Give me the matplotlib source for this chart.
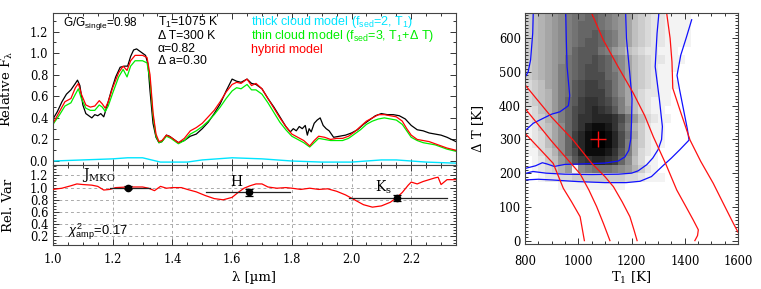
import numpy as np
import matplotlib
matplotlib.use('Agg')
import matplotlib.pyplot as plt
from matplotlib.ticker import MultipleLocator, FormatStrFormatter

plt.rcParams['font.family'] = ['DejaVu Serif']
plt.rcParams['font.size'] = 8.3
plt.rcParams['mathtext.fontset'] = 'custom'
plt.rcParams['mathtext.rm'] = 'Liberation Sans'
plt.rcParams['mathtext.it'] = 'Liberation Sans:italic'
plt.rcParams['mathtext.bf'] = 'Liberation Sans:bold'

# ---------------- spectra (top panel) ----------------
wl_obs = [1.000, 1.015, 1.030, 1.045, 1.060, 1.075, 1.082, 1.090, 1.100, 1.110, 1.120, 1.130,
          1.140, 1.150, 1.160, 1.170, 1.180, 1.195, 1.210, 1.225, 1.240, 1.250, 1.260, 1.270,
          1.280, 1.290, 1.300, 1.310, 1.318, 1.325, 1.335, 1.345, 1.355, 1.365, 1.380, 1.390,
          1.405, 1.420, 1.440, 1.460, 1.480, 1.500, 1.520, 1.540, 1.560, 1.580, 1.600, 1.615,
          1.630, 1.650, 1.665, 1.680, 1.700, 1.720, 1.740, 1.760, 1.780, 1.795, 1.805, 1.815,
          1.825, 1.835, 1.845, 1.852, 1.858, 1.865, 1.875, 1.885, 1.895, 1.905, 1.915, 1.925,
          1.940, 1.960, 1.980, 2.000, 2.020, 2.040, 2.060, 2.080, 2.100, 2.120, 2.140, 2.160,
          2.180, 2.200, 2.220, 2.240, 2.260, 2.280, 2.300, 2.320, 2.335, 2.350]
flux_obs = [0.39, 0.46, 0.55, 0.62, 0.66, 0.72, 0.75, 0.70, 0.52, 0.44, 0.42, 0.40,
            0.43, 0.42, 0.44, 0.41, 0.50, 0.65, 0.78, 0.87, 0.88, 0.88, 0.97, 1.03,
            1.04, 1.02, 1.00, 0.98, 0.90, 0.65, 0.35, 0.22, 0.17, 0.18, 0.24, 0.23,
            0.20, 0.17, 0.19, 0.23, 0.25, 0.30, 0.36, 0.44, 0.53, 0.65, 0.76, 0.74,
            0.73, 0.76, 0.72, 0.71, 0.67, 0.58, 0.50, 0.41, 0.32, 0.27, 0.30, 0.28,
            0.32, 0.30, 0.33, 0.24, 0.30, 0.27, 0.35, 0.38, 0.40, 0.33, 0.30, 0.28,
            0.22, 0.23, 0.24, 0.26, 0.29, 0.34, 0.38, 0.42, 0.44, 0.43, 0.43, 0.42,
            0.39, 0.33, 0.29, 0.28, 0.26, 0.25, 0.24, 0.22, 0.20, 0.18]

wl_mod = [1.000, 1.020, 1.040, 1.060, 1.075, 1.085, 1.095, 1.110, 1.125, 1.140, 1.155, 1.165,
          1.175, 1.185, 1.200, 1.220, 1.235, 1.248, 1.260, 1.275, 1.300, 1.315, 1.325, 1.335,
          1.345, 1.355, 1.365, 1.380, 1.395, 1.410, 1.420, 1.440, 1.460, 1.480, 1.500, 1.520,
          1.540, 1.560, 1.580, 1.600, 1.615, 1.630, 1.650, 1.665, 1.680, 1.700, 1.720, 1.740,
          1.760, 1.780, 1.800, 1.820, 1.840, 1.860, 1.875, 1.890, 1.910, 1.930, 1.950, 1.970,
          1.990, 2.010, 2.030, 2.050, 2.070, 2.090, 2.110, 2.130, 2.150, 2.170, 2.185, 2.200,
          2.220, 2.240, 2.260, 2.280, 2.300, 2.320, 2.335, 2.350]
flux_hybrid = [0.35, 0.45, 0.55, 0.58, 0.68, 0.72, 0.62, 0.52, 0.50, 0.51, 0.56, 0.53,
               0.49, 0.55, 0.68, 0.82, 0.88, 0.84, 0.93, 0.98, 0.98, 0.96, 0.80, 0.45,
               0.25, 0.18, 0.19, 0.24, 0.22, 0.19, 0.17, 0.21, 0.28, 0.31, 0.35, 0.41,
               0.47, 0.55, 0.64, 0.71, 0.73, 0.72, 0.76, 0.70, 0.72, 0.67, 0.58, 0.49,
               0.40, 0.32, 0.25, 0.22, 0.19, 0.14, 0.19, 0.23, 0.22, 0.20, 0.21, 0.21,
               0.23, 0.27, 0.32, 0.37, 0.40, 0.43, 0.43, 0.42, 0.41, 0.37, 0.30, 0.24,
               0.20, 0.19, 0.18, 0.16, 0.14, 0.12, 0.11, 0.10]
flux_thin = [0.34, 0.42, 0.51, 0.54, 0.62, 0.67, 0.58, 0.49, 0.47, 0.47, 0.52, 0.50,
             0.46, 0.51, 0.63, 0.78, 0.85, 0.78, 0.88, 0.93, 0.93, 0.91, 0.75, 0.42,
             0.23, 0.17, 0.18, 0.23, 0.21, 0.18, 0.16, 0.19, 0.25, 0.28, 0.32, 0.37,
             0.43, 0.50, 0.58, 0.65, 0.68, 0.67, 0.71, 0.66, 0.66, 0.62, 0.54, 0.45,
             0.36, 0.29, 0.23, 0.20, 0.17, 0.13, 0.17, 0.21, 0.20, 0.19, 0.19, 0.19,
             0.21, 0.25, 0.29, 0.34, 0.37, 0.39, 0.40, 0.39, 0.38, 0.34, 0.28, 0.22,
             0.19, 0.17, 0.16, 0.15, 0.13, 0.11, 0.10, 0.09]

wl_thick = [1.00, 1.10, 1.20, 1.25, 1.30, 1.33, 1.36, 1.45, 1.50, 1.60, 1.70, 1.80,
            1.90, 2.00, 2.10, 2.15, 2.25, 2.35]
flux_thick = [0.00, 0.01, 0.02, 0.03, 0.03, 0.01, -0.01, -0.01, 0.01, 0.03, 0.02, 0.00,
              -0.01, -0.01, 0.01, 0.01, -0.01, -0.02]

# ---------------- relative variability (lower panel) ----------------
wl_var = [1.00, 1.03, 1.06, 1.08, 1.10, 1.13, 1.15, 1.17, 1.19, 1.21, 1.25, 1.30, 1.32,
          1.34, 1.36, 1.38, 1.40, 1.43, 1.45, 1.48, 1.51, 1.54, 1.57, 1.60, 1.62, 1.64,
          1.66, 1.68, 1.70, 1.72, 1.75, 1.78, 1.80, 1.83, 1.86, 1.89, 1.92, 1.95, 1.98,
          2.01, 2.04, 2.07, 2.10, 2.13, 2.15, 2.17, 2.19, 2.20, 2.22, 2.24, 2.26, 2.28,
          2.29, 2.30, 2.32, 2.35]
rel_var = [0.97, 0.99, 1.03, 1.06, 1.05, 1.04, 1.02, 0.96, 0.97, 1.00, 1.01, 1.01, 0.99,
           0.95, 1.02, 0.99, 1.00, 1.00, 0.97, 0.93, 0.87, 0.82, 0.80, 0.84, 0.92, 0.99,
           1.03, 1.06, 1.06, 1.01, 0.99, 1.00, 0.99, 0.97, 0.99, 0.97, 0.98, 0.94, 0.88,
           0.80, 0.72, 0.68, 0.70, 0.76, 0.83, 0.92, 1.04, 1.09, 1.06, 1.10, 1.13, 1.16,
           1.17, 1.05, 1.13, 1.13]

band_names = ['J$_{\\mathrm{MKO}}$', 'H', 'K$_{\\mathrm{s}}$']
band_center = [1.25, 1.655, 2.152]
band_lo = [1.19, 1.513, 1.993]
band_hi = [1.325, 1.795, 2.32]
band_var = [1.00, 0.92, 0.83]
band_err = [0.02, 0.05, 0.05]
band_label_xy = [(1.097, 1.14), (1.593, 1.02), (2.079, 0.93)]

# ---------------- T1 / Delta T map (right panel) ----------------
t1_edges = np.arange(800, 1601, 25)
dt_edges = np.arange(0, 676, 25)
# grey code per cell: 0 (white) .. k (=20, black); rows from dT=650 (top) to dT=0
map_rows = [
    "456789abbccba987543221111",   # 650
    "456789abcccba987543221111",   # 625
    "456789abccdcba87543221111",   # 600
    "456789abcddcba87543221111",   # 575
    "456789acdddba87543221110",    # 550
    "456789bcddedca9754322111",    # 525
    "45678abcdeedca975432111",     # 500
    "45678abcdeeecb97543211",      # 475
    "34578abdeffedb9754321110",    # 450
    "34568abdefffdb975322110",     # 425
    "34568acdfggfeca7532111",      # 400
    "23568acefghgfda853211",       # 375
    "23467acegghhhgeb853211",      # 350
    "124579cegijjigda64211",       # 325
    "123579cfhjkkjheb74211",       # 300
    "123579cfhjkkjhea64211",       # 275
    "113469cehjjjigda6321",        # 250
    "012458adfghhgfc95311",        # 225
    "012346819abbba986421",        # 200
    "001223344444444332111",       # 175
    "0000011111111110",            # 150
    "0", "0", "0", "0", "0", "0",
]

blue_inner_right = [(1178, 675), (1181, 600), (1193, 500), (1202, 420), (1200, 350), (1197, 300),
                    (1190, 268), (1175, 248), (1150, 236), (1100, 230), (1000, 227), (950, 226),
                    (910, 220), (880, 228), (865, 231), (840, 222), (800, 214)]
blue_inner_left = [(953, 675), (955, 600), (958, 516), (968, 430), (963, 400), (931, 382),
                   (900, 375), (869, 363), (831, 348), (806, 330), (800, 325)]
blue_mid_left = [(831, 675), (829, 615), (821, 536), (812, 501), (800, 484)]
blue_mid_right = [(1303, 675), (1296, 615), (1289, 516), (1305, 417), (1316, 338), (1313, 300),
                  (1300, 270), (1280, 245), (1257, 225), (1225, 207), (1200, 200), (1150, 197),
                  (1050, 196), (950, 197), (880, 200), (830, 205), (800, 199)]
blue_outer = [(800, 180), (850, 182), (900, 180), (1000, 175), (1100, 172), (1180, 172),
              (1232, 176), (1275, 190), (1318, 222), (1350, 245), (1382, 270), (1416, 298),
              (1410, 330), (1395, 390), (1380, 450), (1371, 490), (1385, 550), (1405, 600),
              (1426, 655)]

red_lines = [
    [(800, 318), (860, 268), (906, 229), (944, 155), (975, 115), (1007, 71), (1023, 0)],
    [(800, 392), (901, 294), (1007, 198), (1040, 150), (1069, 101), (1095, 50), (1119, 0)],
    [(800, 462), (900, 366), (981, 298), (1050, 230), (1100, 190), (1132, 160), (1165, 115),
     (1194, 71), (1210, 30), (1221, 0)],
    [(1050, 675), (1094, 595), (1150, 515), (1207, 437), (1250, 370), (1282, 308), (1330, 225),
     (1370, 150), (1405, 100), (1432, 61), (1451, 32), (1448, 15), (1438, 0)],
    [(1332, 675), (1345, 600), (1352, 530), (1355, 452), (1385, 380), (1420, 298), (1460, 235),
     (1507, 170), (1545, 110), (1582, 52), (1600, 25)],
]
best_t1, best_dt = 1075, 300

# ---------------- figure ----------------
W, H = 761, 289
fig = plt.figure(figsize=(W / 100, H / 100), dpi=100)


def rect(l, t, r, b):
    return [l / W, 1 - b / H, (r - l) / W, (b - t) / H]


ax1 = fig.add_axes(rect(53, 13, 456, 165))
ax2 = fig.add_axes(rect(53, 165, 456, 245))
ax3 = fig.add_axes(rect(525, 13, 738, 244))

for ax in (ax1, ax2, ax3):
    ax.tick_params(which='both', direction='in', top=True, right=True,
                   width=0.7, color='#333333', labelsize=8.3)
    ax.tick_params(which='major', length=4.5)
    ax.tick_params(which='minor', length=2.2)
    for s in ax.spines.values():
        s.set_linewidth(0.8)
        s.set_color('#444444')

sans = 'Liberation Sans'

# top panel
ax1.plot(wl_thick, flux_thick, color='#00e5ff', lw=1.0)
ax1.plot(wl_obs, flux_obs, color='black', lw=0.9)
ax1.plot(wl_mod, flux_thin, color='#00ee00', lw=0.9)
ax1.plot(wl_mod, flux_hybrid, color='#ff0000', lw=0.9)
ax1.set_xlim(1.0, 2.35)
ax1.set_ylim(-0.037, 1.373)
ax1.xaxis.set_major_locator(MultipleLocator(0.2))
ax1.xaxis.set_minor_locator(MultipleLocator(0.05))
ax1.set_yticks(np.arange(0, 1.21, 0.2))
ax1.yaxis.set_major_formatter(FormatStrFormatter('%.1f'))
ax1.yaxis.set_minor_locator(MultipleLocator(0.1))
ax1.tick_params(labelbottom=False)
ax1.set_ylabel('Relative F$_{\\mathrm{\\lambda}}$', fontsize=9.5, math_fontfamily='dejavuserif')
ax1.yaxis.set_label_coords(-0.094, 0.5)


def ptxt(ax, xpx, ypx_base, s, color='black', size=8.8):
    ax.text((xpx - 53) / 403, (165 - ypx_base) / 152, s, transform=ax.transAxes,
            fontsize=size, family=sans, color=color, va='baseline', ha='left')


ptxt(ax1, 63, 26, 'G/G$_{\\mathrm{single}}$=0.98', size=8.5)
ptxt(ax1, 158, 26, 'T$_1$=1075 K')
ptxt(ax1, 158, 39, 'Δ T=300 K')
ptxt(ax1, 158, 52, 'α=0.82')
ptxt(ax1, 158, 64.5, 'Δ a=0.30')
ptxt(ax1, 251, 24.5, 'thick cloud model (f$_{\\mathrm{sed}}$=2, T$_1$)', color='#00e5ff', size=9.0)
ptxt(ax1, 251, 39.5, 'thin cloud model (f$_{\\mathrm{sed}}$=3, T$_1$+Δ T)', color='#00ee00', size=9.0)
ptxt(ax1, 251, 53.5, 'hybrid model', color='#ff0000', size=9.0)

# lower panel
ax2.plot(wl_var, rel_var, color='#ff0000', lw=0.9, zorder=3)
for name, c, lo, hi, v, e, (lx, ly) in zip(band_names, band_center, band_lo, band_hi,
                                            band_var, band_err, band_label_xy):
    ax2.plot([lo, hi], [v, v], color='#222222', lw=0.9, zorder=4)
    ax2.errorbar([c], [v], yerr=[e], fmt='o', color='black', ms=4.5, capsize=3,
                 elinewidth=0.9, capthick=0.9, zorder=5)
    ax2.text(lx, ly, name, fontsize=10, family='DejaVu Serif', math_fontfamily='dejavuserif',
             va='baseline', ha='left')
ax2.text(1.05, 0.225, '$\\chi^2_{\\mathrm{amp}}$=0.17', fontsize=9.3, family=sans,
         va='baseline', ha='left')
ax2.set_xlim(1.0, 2.35)
ax2.set_ylim(0.06, 1.37)
ax2.set_xticks(np.arange(1.0, 2.21, 0.2))
ax2.xaxis.set_major_formatter(FormatStrFormatter('%.1f'))
ax2.xaxis.set_minor_locator(MultipleLocator(0.05))
ax2.set_yticks(np.arange(0.2, 1.21, 0.2))
ax2.yaxis.set_major_formatter(FormatStrFormatter('%.1f'))
ax2.yaxis.set_minor_locator(MultipleLocator(0.05))
ax2.grid(True, which='major', ls=(0, (3, 3)), color='#aaaaaa', lw=0.7)
ax2.tick_params(axis='x', pad=6)
ax2.set_ylabel('Rel. Var', fontsize=9.5)
ax2.yaxis.set_label_coords(-0.094, 0.5)
ax2.set_xlabel('λ [µm]', fontsize=9.5, labelpad=3)

# right panel
codes = np.array([[int(ch, 36) for ch in r.ljust(32, '0')[:32]] for r in map_rows[::-1]])
ax3.pcolormesh(t1_edges, dt_edges, codes, cmap='gray_r', vmin=0, vmax=20, shading='flat')
for path in (blue_inner_right, blue_inner_left, blue_mid_left, blue_mid_right, blue_outer):
    xs, ys = zip(*path)
    ax3.plot(xs, ys, color='#1010ff', lw=0.9)
for path in red_lines:
    xs, ys = zip(*path)
    ax3.plot(xs, ys, color='#ff1010', lw=0.9)
ax3.plot([best_t1], [best_dt], marker='+', color='#ff1010', ms=11.5, mew=1.0)
ax3.set_xlim(800, 1600)
ax3.set_ylim(-10, 675)
ax3.set_xticks(np.arange(800, 1601, 200))
ax3.xaxis.set_minor_locator(MultipleLocator(50))
ax3.set_yticks(np.arange(0, 601, 100))
ax3.yaxis.set_minor_locator(MultipleLocator(10))
ax3.tick_params(axis='x', pad=8)
ax3.tick_params(axis='y', pad=3)
ax3.set_xlabel('T$_{1}$ [K]', fontsize=9.5, math_fontfamily='dejavuserif', labelpad=1)
ax3.set_ylabel('Δ T [K]', fontsize=9.5)
ax3.yaxis.set_label_coords(-0.19, 0.5)

fig.savefig('out.png', dpi=100)
